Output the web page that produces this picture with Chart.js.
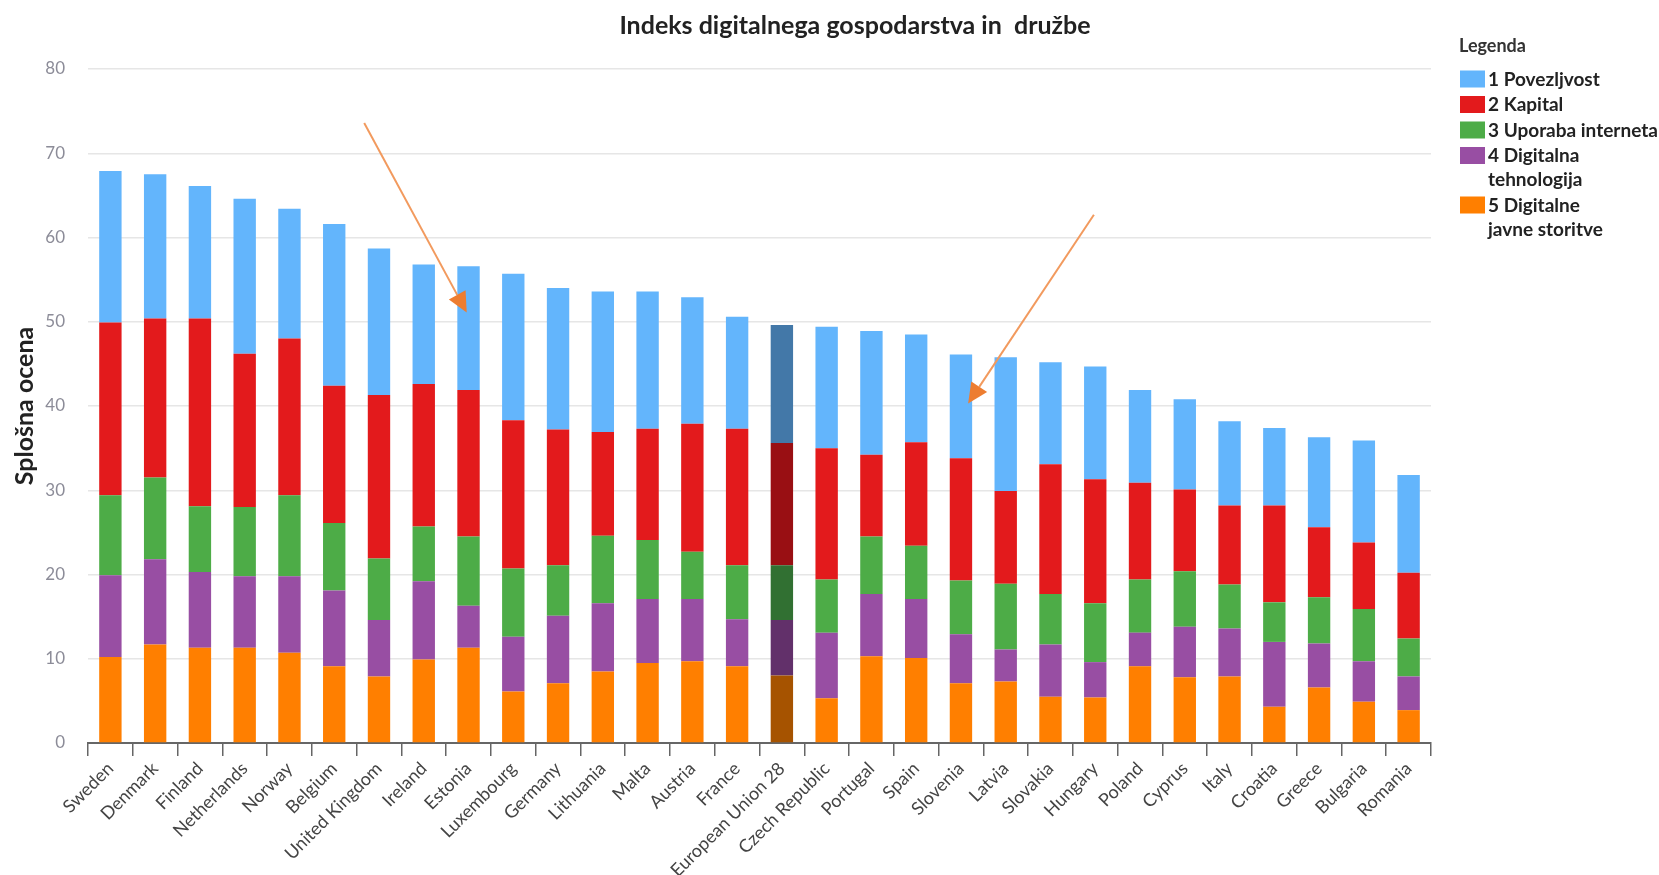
<!DOCTYPE html>
<html>
<head>
<meta charset="utf-8">
<script src="https://cdn.jsdelivr.net/npm/chart.js@4/dist/chart.umd.min.js"></script>
<style>
  html, body { margin: 0; padding: 0; background: #fff; overflow: hidden; }
  #wrap { position: relative; width: 1710px; height: 875px; }
</style>
</head>
<body>
<div id="wrap"><canvas id="c"></canvas></div>
<script>
// ---- data ----
const countries = ["Sweden","Denmark","Finland","Netherlands","Norway","Belgium","United Kingdom","Ireland","Estonia","Luxembourg","Germany","Lithuania","Malta","Austria","France","European Union 28","Czech Republic","Portugal","Spain","Slovenia","Latvia","Slovakia","Hungary","Poland","Cyprus","Italy","Croatia","Greece","Bulgaria","Romania"];

const povezljivost = [18.0,17.1,15.7,18.4,15.4,19.2,17.4,14.2,14.7,17.4,16.8,16.7,16.3,15.0,13.3,14.0,14.4,14.7,12.8,12.3,15.9,12.1,13.4,11.0,10.7,10.0,9.2,10.7,12.1,11.6];
const kapital      = [20.5,18.9,22.3,18.2,18.6,16.3,19.4,16.9,17.4,17.6,16.1,12.3,13.2,15.2,16.2,14.5,15.6,9.7,12.3,14.5,11.0,15.4,14.7,11.5,9.7,9.4,11.5,8.3,7.9,7.8];
const internet     = [9.5,9.7,7.8,8.2,9.6,8.0,7.3,6.5,8.2,8.1,6.0,8.0,7.0,5.6,6.4,6.5,6.3,6.8,6.3,6.4,7.8,6.0,7.0,6.3,6.6,5.2,4.7,5.5,6.2,4.5];
const tehnologija  = [9.7,10.1,9.0,8.5,9.1,9.0,6.7,9.3,5.0,6.5,8.0,8.1,7.6,7.4,5.6,6.6,7.8,7.4,7.0,5.8,3.8,6.2,4.2,4.0,6.0,5.7,7.7,5.2,4.8,4.0];
const javne        = [10.2,11.7,11.3,11.3,10.7,9.1,7.9,9.9,11.3,6.1,7.1,8.5,9.5,9.7,9.1,8.0,5.3,10.3,10.1,7.1,7.3,5.5,5.4,9.1,7.8,7.9,4.3,6.6,4.9,3.9];

const yTicks = [0,10,20,30,40,50,60,70,80];

const legendLabels = [
  ["1 Povezljvost"],
  ["2 Kapital"],
  ["3 Uporaba interneta"],
  ["4 Digitalna", "tehnologija"],
  ["5 Digitalne", "javne storitve"]
];
const highlighted = "European Union 28";

// arrows in data terms: [fromIndex, fromValue, toIndex, toValue]
const arrowsData = [
  [5.67, 73.6, 7.96, 51.1],
  [21.97, 62.7, 19.16, 40.3]
];

// ---- styling ----
const colors     = ["#63b5fc", "#e31a1c", "#4dac47", "#984ea3", "#ff7f00"];
const darkColors = ["#4378a8", "#990f13", "#317032", "#62306a", "#a65300"];
const seriesBottomUp = [javne, tehnologija, internet, kapital, povezljivost]; // orange..blue
const seriesColorIdx = [4, 3, 2, 1, 0];

const datasets = seriesBottomUp.map((vals, k) => {
  const ci = seriesColorIdx[k];
  return {
    label: legendLabels[ci].join(" "),
    data: vals,
    backgroundColor: countries.map(c => c === highlighted ? darkColors[ci] : colors[ci]),
    borderWidth: 0,
    barPercentage: 0.5,
    categoryPercentage: 1.0
  };
});

const FONT = "Lato, 'Open Sans', sans-serif";

const legendArrowPlugin = {
  id: 'legendArrows',
  afterDatasetsDraw(chart) {
    const {ctx, scales: {x, y}} = chart;
    ctx.save();
    arrowsData.forEach(a => {
      const x1 = x.getPixelForValue(a[0]), y1 = y.getPixelForValue(a[1]);
      const x2 = x.getPixelForValue(a[2]), y2 = y.getPixelForValue(a[3]);
      const ang = Math.atan2(y2 - y1, x2 - x1);
      const hl = 20, hw = 9.5;
      const bx = x2 - hl * Math.cos(ang), by = y2 - hl * Math.sin(ang);
      ctx.strokeStyle = '#f29a5e';
      ctx.lineWidth = 2;
      ctx.beginPath(); ctx.moveTo(x1, y1); ctx.lineTo(bx, by); ctx.stroke();
      ctx.fillStyle = '#ed7d31';
      ctx.beginPath();
      ctx.moveTo(x2, y2);
      ctx.lineTo(bx + hw * Math.sin(ang), by - hw * Math.cos(ang));
      ctx.lineTo(bx - hw * Math.sin(ang), by + hw * Math.cos(ang));
      ctx.closePath(); ctx.fill();
    });
    ctx.restore();
  },
  afterDraw(chart) {
    const {ctx, chartArea} = chart;
    ctx.save();
    const x0 = chartArea.right + 29;
    ctx.textBaseline = 'middle';
    ctx.textAlign = 'left';
    ctx.fillStyle = '#333';
    ctx.font = "bold 18px " + FONT;
    ctx.fillText("Legenda", x0 - 1, 46);
    ctx.font = "bold 19px " + FONT;
    let yc = 79.5;
    const lh = 24, gap = 25.5;
    legendLabels.forEach((lines, i) => {
      ctx.fillStyle = colors[i];
      ctx.fillRect(x0, yc - 9, 25, 17);
      ctx.fillStyle = '#222';
      lines.forEach((t, j) => ctx.fillText(t, x0 + 28, yc + j * lh));
      yc += gap + (lines.length - 1) * lh;
    });
    ctx.restore();
  }
};

new Chart(document.getElementById('c'), {
  type: 'bar',
  data: { labels: countries, datasets },
  plugins: [legendArrowPlugin],
  options: {
    responsive: true,
    maintainAspectRatio: false,
    animation: false,
    layout: { padding: 0 },
    plugins: {
      legend: { display: false },
      tooltip: { enabled: false },
      title: {
        display: true,
        text: "Indeks digitalnega gospodarstva in  družbe",
        color: '#222',
        font: { family: FONT, size: 25, weight: 'bold', lineHeight: 1.2 },
        padding: { top: 11, bottom: 28 }
      }
    },
    scales: {
      x: {
        stacked: true,
        grid: { display: true, drawOnChartArea: false, drawTicks: true, tickLength: 13, color: '#666', lineWidth: 1.5, offset: true },
        border: { display: true, color: '#666', width: 2 },
        ticks: { autoSkip: false, maxRotation: 45, minRotation: 45, color: '#444', padding: 2,
                 font: { family: FONT, size: 18 } },
        afterFit(s) { s.height = 132; }
      },
      y: {
        stacked: true,
        min: 0, max: 80,
        afterBuildTicks(s) { s.ticks = yTicks.map(v => ({ value: v })); },
        grid: { color: '#e6e6e6', lineWidth: 1.5, drawTicks: false },
        border: { display: false },
        ticks: { color: '#8c8c98', padding: 23, font: { family: FONT, size: 17 } },
        title: { display: true, text: "Splošna ocena", color: '#222', padding: { top: 10, bottom: 0 },
                 font: { family: FONT, size: 25, weight: 'bold', lineHeight: 1.2 } },
        afterFit(s) { s.width = 88; }
      },
      legendSpace: {
        position: 'right',
        display: true,
        grid: { display: false },
        border: { display: false },
        ticks: { display: false },
        afterFit(s) { s.width = 279; }
      }
    }
  }
});
</script>
</body>
</html>
